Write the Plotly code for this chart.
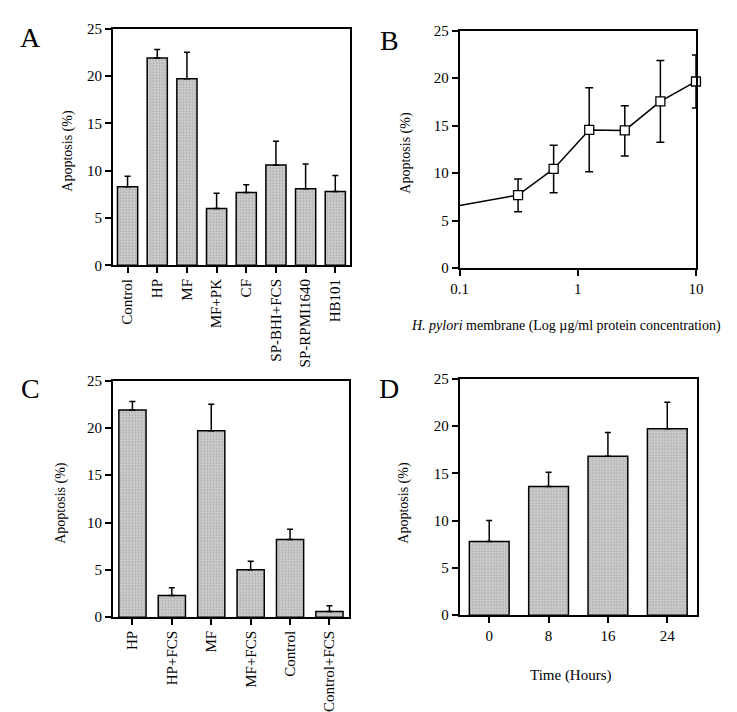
import plotly.graph_objects as go

# Panel A
a_cats = ["Control", "HP", "MF", "MF+PK", "CF", "SP-BHI+FCS", "SP-RPMI1640", "HB101"]
a_vals = [8.3, 21.9, 19.7, 6.0, 7.7, 10.6, 8.1, 7.8]
a_err = [1.1, 0.9, 2.8, 1.6, 0.8, 2.5, 2.6, 1.7]

# Panel B
b_conc = [0.3125, 0.625, 1.25, 2.5, 5, 10]
b_vals = [7.7, 10.45, 14.55, 14.5, 17.55, 19.65]
b_err_plus = [1.7, 2.5, 4.45, 2.6, 4.3, 2.8]
b_err_minus = [1.75, 2.5, 4.4, 2.7, 4.3, 2.8]
b_start_conc = 0.1
b_start_val = 6.6

# Panel C
c_cats = ["HP", "HP+FCS", "MF", "MF+FCS", "Control", "Control+FCS"]
c_vals = [21.9, 2.3, 19.7, 5.0, 8.2, 0.6]
c_err = [0.9, 0.8, 2.8, 0.9, 1.1, 0.6]

# Panel D
d_cats = ["0", "8", "16", "24"]
d_vals = [7.8, 13.6, 16.8, 19.7]
d_err = [2.2, 1.5, 2.5, 2.8]

W, H = 737, 712
FONT = "Liberation Serif"

def px_x(x0, x1):
    return [x0 / W, x1 / W]

def px_y(y_top, y_bot):
    return [1 - y_bot / H, 1 - y_top / H]

bar_marker = dict(
    color="#c2c2c2",
    line=dict(color="black", width=1.5),
    pattern=dict(shape=".", fgcolor="#808080", bgcolor="#d0d0d0", size=3, solidity=0.35),
)

fig = go.Figure()

def add_bars(cats, vals, errs, xa, ya, width):
    e = dict(type="data", symmetric=False, array=errs, arrayminus=[0] * len(errs),
             color="black", thickness=1.5, width=3)
    fig.add_trace(go.Bar(x=cats, y=vals, error_y=e, marker=bar_marker, width=width,
                         xaxis=xa, yaxis=ya, showlegend=False))

add_bars(a_cats, a_vals, a_err, "x", "y", 0.68)
add_bars(c_cats, c_vals, c_err, "x3", "y3", 0.69)
add_bars(d_cats, d_vals, d_err, "x4", "y4", 0.67)

# Panel B line + markers
fig.add_trace(go.Scatter(x=[b_start_conc] + b_conc, y=[b_start_val] + b_vals, mode="lines",
                         line=dict(color="black", width=1.5), xaxis="x2", yaxis="y2",
                         showlegend=False, cliponaxis=False))
fig.add_trace(go.Scatter(x=b_conc, y=b_vals, mode="markers",
                         marker=dict(symbol="square", size=9, color="white",
                                     line=dict(color="black", width=1.3)),
                         error_y=dict(type="data", symmetric=False, array=b_err_plus,
                                      arrayminus=b_err_minus, color="black", thickness=1.5, width=4),
                         xaxis="x2", yaxis="y2", showlegend=False, cliponaxis=False))

axis_common = dict(showline=True, linecolor="black", linewidth=1.5, mirror=True,
                   showgrid=False, zeroline=False, ticks="outside", ticklen=6,
                   tickwidth=1.5, tickcolor="black",
                   tickfont=dict(family=FONT, size=15, color="black"))

yaxis_common = dict(axis_common, range=[0, 25], tickvals=[0, 5, 10, 15, 20, 25])

fig.update_layout(
    width=W, height=H, margin=dict(l=0, r=0, t=0, b=0),
    paper_bgcolor="white", plot_bgcolor="white",
    font=dict(family=FONT, color="black"),
    bargap=0.3,
    xaxis=dict(axis_common, domain=px_x(98, 341), range=[-0.5, 7.5], tickangle=-90, anchor="y"),
    yaxis=dict(yaxis_common, domain=px_y(13, 255), anchor="x"),
    xaxis2=dict(axis_common, domain=px_x(453, 695), type="log", range=[-1, 1],
                tickvals=[0.1, 1, 10], ticktext=["0.1", "1", "10"], anchor="y2"),
    yaxis2=dict(yaxis_common, domain=px_y(15, 258), anchor="x2"),
    xaxis3=dict(axis_common, domain=px_x(98, 340), range=[-0.5, 5.5], tickangle=-90, anchor="y3"),
    yaxis3=dict(yaxis_common, domain=px_y(373, 615), anchor="x3"),
    xaxis4=dict(axis_common, domain=px_x(453, 696), range=[-0.5, 3.5], anchor="y4"),
    yaxis4=dict(yaxis_common, domain=px_y(371, 613), anchor="x4"),
)

ann = []
def text(x, y, s, size=14, angle=0):
    ann.append(dict(x=x / W, y=1 - y / H, xref="paper", yref="paper", text=s, showarrow=False,
                    font=dict(family=FONT, size=size, color="black"), textangle=angle,
                    xanchor="center", yanchor="middle"))

text(14, 22, "A", size=28)
text(381, 25, "B", size=28)
text(14, 381, "C", size=28)
text(381, 381, "D", size=28)
text(52, 138, "Apoptosis (%)", angle=-90)
text(398, 140, "Apoptosis (%)", angle=-90)
text(45, 498, "Apoptosis (%)", angle=-90)
text(396, 498, "Apoptosis (%)", angle=-90)
text(562, 317, "<i>H. pylori</i> membrane (Log µg/ml protein concentration)", size=14)
text(567, 675, "Time (Hours)", size=15)
fig.update_layout(annotations=ann)

fig.write_html("out.html")
